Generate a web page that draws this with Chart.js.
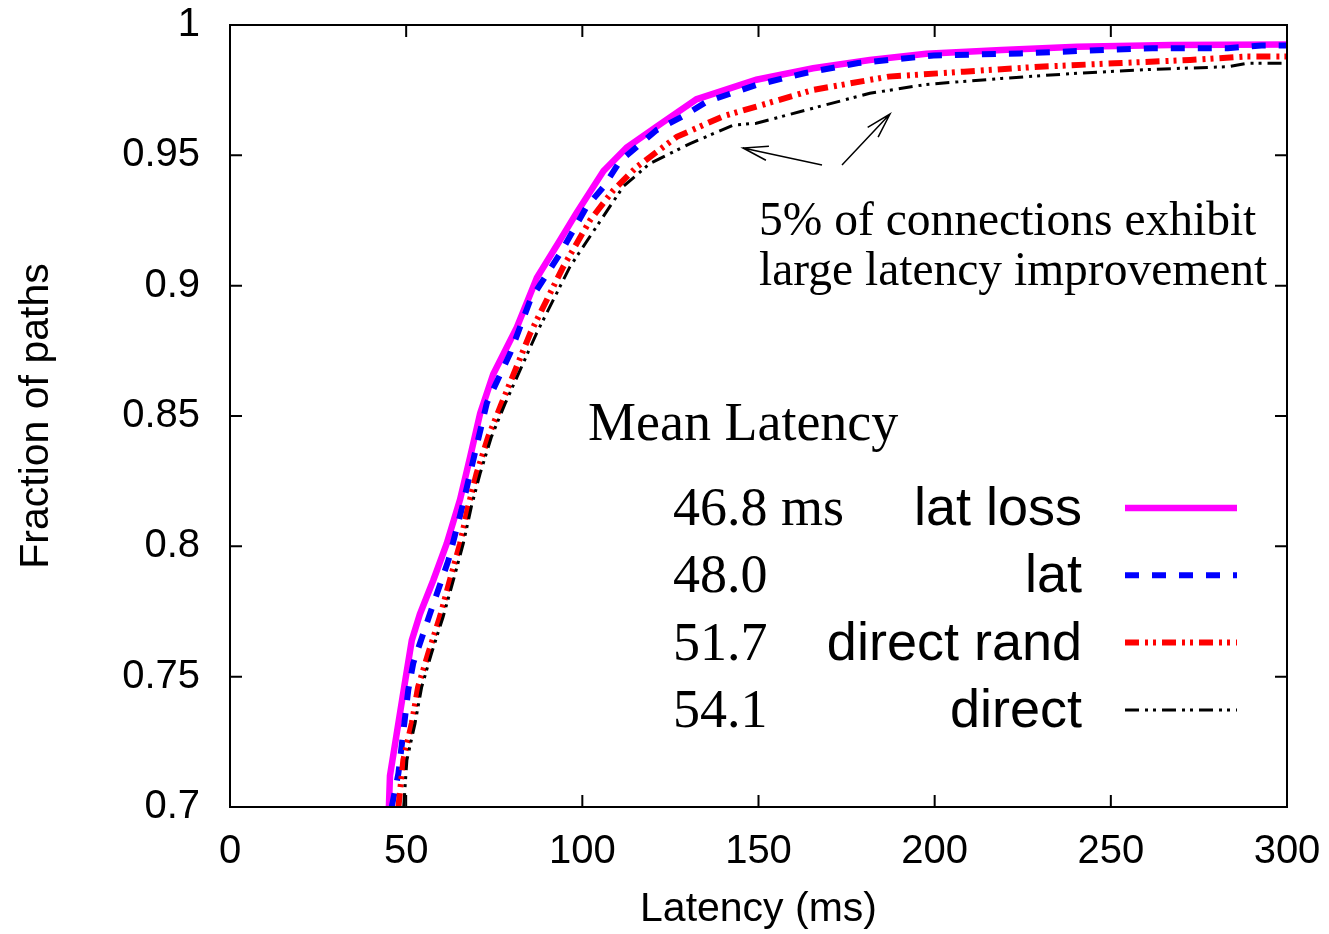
<!DOCTYPE html>
<html>
<head>
<meta charset="utf-8">
<script src="https://cdn.jsdelivr.net/npm/chart.js@4"></script>
<style>
  body { margin: 0; background: #fff; }
  #wrap { width: 1329px; height: 934px; }
</style>
</head>
<body>
<div id="wrap"><canvas id="chart"></canvas></div>
<script>
// key: series names and mean latency shown next to them
const seriesNames = ['lat loss', 'lat', 'direct rand', 'direct'];
const meanLatency = ['46.8 ms', '48.0', '51.7', '54.1'];
const noteLines = ['5% of connections exhibit', 'large latency improvement'];

const xTicks = [0, 50, 100, 150, 200, 250, 300];
const yTicks = [0.7, 0.75, 0.8, 0.85, 0.9, 0.95, 1];

// CDF curves (latency in ms, fraction of paths)
const latLossX = [45.1, 45.4, 47.3, 49.2, 51.6, 53.9, 57.7, 61.5, 65.3, 68.1, 71.0, 74.7, 81.4, 87.1, 93.7, 98.4, 106.0, 112.6, 122.1, 132.4, 149.4, 165.5, 181.6, 197.6, 219, 240.4, 267.1, 300];
const latLossY = [0.700, 0.712, 0.728, 0.744, 0.764, 0.774, 0.787, 0.801, 0.818, 0.834, 0.851, 0.866, 0.884, 0.903, 0.9175, 0.928, 0.944, 0.953, 0.962, 0.9715, 0.979, 0.9834, 0.9866, 0.989, 0.9904, 0.9917, 0.9923, 0.9925];

const latX = [45.9, 47.8, 50.6, 52.0, 56.8, 62.0, 65.7, 69.5, 72.9, 79.5, 85.2, 93.7, 101.2, 106.0, 110.7, 121.1, 128.6, 135.3, 149.4, 163.3, 178.3, 199.7, 224.3, 240.4, 261.8, 283.2, 292.8, 300];
const latY = [0.700, 0.7129, 0.7449, 0.7551, 0.7743, 0.7947, 0.8139, 0.8357, 0.855, 0.874, 0.8944, 0.9123, 0.9302, 0.9379, 0.9478, 0.9597, 0.965, 0.9706, 0.977, 0.9816, 0.9854, 0.9883, 0.9891, 0.990, 0.9911, 0.9911, 0.9921, 0.9921];

const directRandX = [47.8, 49.2, 51.6, 53.4, 56.3, 59.6, 62.4, 65.3, 67.6, 70.0, 73.3, 77.1, 85.2, 94.6, 102.2, 108.8, 115.4, 126.8, 140.0, 149.4, 165.5, 186.9, 208.3, 229.7, 251.1, 272.5, 288.5, 300];
const directRandY = [0.700, 0.718, 0.7321, 0.7461, 0.759, 0.773, 0.787, 0.801, 0.8152, 0.828, 0.842, 0.8548, 0.8817, 0.9073, 0.9251, 0.9366, 0.9455, 0.9571, 0.965, 0.9687, 0.9751, 0.9802, 0.9821, 0.984, 0.9853, 0.9866, 0.9879, 0.9879];

const directX = [49.3, 50.2, 52.5, 54.4, 57.2, 60.5, 63.4, 66.2, 68.5, 71.0, 74.2, 78.1, 87.0, 96.5, 104.0, 111.6, 119.2, 130.6, 142.8, 149.4, 165.5, 181.6, 197.6, 219, 240.4, 261.8, 283.2, 288.5, 300];
const directY = [0.700, 0.718, 0.732, 0.746, 0.759, 0.773, 0.787, 0.801, 0.8152, 0.828, 0.842, 0.8548, 0.8817, 0.9073, 0.9226, 0.938, 0.9469, 0.9545, 0.9616, 0.9623, 0.9681, 0.9738, 0.9772, 0.9795, 0.9815, 0.983, 0.984, 0.9853, 0.9853];

const sans = '"Liberation Sans", Arial, sans-serif';
const serif = '"Liberation Serif", "Times New Roman", serif';

function pts(xs, ys) {
    return xs.map((x, i) => ({ x: x, y: ys[i] }));
}

function arrow(ctx, x1, y1, x2, y2) {
    const ang = Math.atan2(y2 - y1, x2 - x1);
    const len = 26, spread = 0.28;
    ctx.beginPath();
    ctx.moveTo(x1, y1);
    ctx.lineTo(x2, y2);
    ctx.moveTo(x2 - len * Math.cos(ang - spread), y2 - len * Math.sin(ang - spread));
    ctx.lineTo(x2, y2);
    ctx.lineTo(x2 - len * Math.cos(ang + spread), y2 - len * Math.sin(ang + spread));
    ctx.stroke();
}

// gnuplot style frame: full box, ticks pointing inwards, key and note inside the plot
const framePlugin = {
    id: 'frame',
    afterDatasetsDraw(chart) {
        const ctx = chart.ctx;
        const a = chart.chartArea;
        const xs = chart.scales.x, ys = chart.scales.y;
        ctx.save();
        ctx.strokeStyle = '#000';
        ctx.lineWidth = 2;
        ctx.strokeRect(a.left, a.top, a.right - a.left, a.bottom - a.top);

        ctx.beginPath();
        xTicks.forEach(v => {
            const px = xs.getPixelForValue(v);
            ctx.moveTo(px, a.bottom); ctx.lineTo(px, a.bottom - 12);
            ctx.moveTo(px, a.top); ctx.lineTo(px, a.top + 12);
        });
        yTicks.forEach(v => {
            const py = ys.getPixelForValue(v);
            ctx.moveTo(a.left, py); ctx.lineTo(a.left + 12, py);
            ctx.moveTo(a.right, py); ctx.lineTo(a.right - 12, py);
        });
        ctx.stroke();

        // note + arrows
        ctx.fillStyle = '#000';
        ctx.textBaseline = 'alphabetic';
        ctx.textAlign = 'left';
        ctx.font = '47.5px ' + serif;
        ctx.fillText(noteLines[0], 759, 235);
        ctx.fillText(noteLines[1], 759, 285);
        ctx.lineWidth = 1.5;
        arrow(ctx, 822, 165, 743, 148);
        arrow(ctx, 842, 165, 890, 114);

        // key
        ctx.font = '54px ' + serif;
        ctx.fillText('Mean Latency', 588, 440);
        chart.data.datasets.forEach((ds, i) => {
            const base = 525 + i * 67.3;
            ctx.font = '54px ' + serif;
            ctx.textAlign = 'left';
            ctx.fillText(meanLatency[i], 673, base);
            ctx.font = '54px ' + sans;
            ctx.textAlign = 'right';
            ctx.fillText(ds.label, 1082, base);
            ctx.beginPath();
            ctx.strokeStyle = ds.borderColor;
            ctx.lineWidth = ds.borderWidth;
            ctx.setLineDash(ds.borderDash || []);
            ctx.moveTo(1125, base - 17);
            ctx.lineTo(1237, base - 17);
            ctx.stroke();
            ctx.setLineDash([]);
        });
        ctx.restore();
    }
};

const datasets = [
    { label: seriesNames[0], data: pts(latLossX, latLossY), borderColor: '#ff00ff', borderWidth: 6.5, order: 3 },
    { label: seriesNames[1], data: pts(latX, latY), borderColor: '#0000ff', borderWidth: 6, borderDash: [14, 13], order: 2 },
    { label: seriesNames[2], data: pts(directRandX, directRandY), borderColor: '#ff0000', borderWidth: 6, borderDash: [14, 6, 3, 5, 3, 6], order: 1 },
    { label: seriesNames[3], data: pts(directX, directY), borderColor: '#000000', borderWidth: 3, borderDash: [14, 6, 3, 5, 3, 6], order: 0 }
];
datasets.forEach(d => { d.pointRadius = 0; d.fill = false; d.tension = 0; d.clip = 0; });

new Chart(document.getElementById('chart'), {
    type: 'line',
    data: { datasets: datasets },
    options: {
        responsive: true,
        maintainAspectRatio: false,
        animation: false,
        layout: { padding: { left: 0, right: 42, top: 25, bottom: 0 } },
        plugins: { legend: { display: false }, tooltip: { enabled: false } },
        scales: {
            x: {
                type: 'linear',
                min: 0, max: 300,
                afterBuildTicks: s => { s.ticks = xTicks.map(v => ({ value: v })); },
                afterFit: s => { s.height = 127; s.paddingLeft = 0; s.paddingRight = 0; },
                grid: { display: false, drawTicks: false },
                border: { display: false },
                ticks: { color: '#000', font: { family: sans, size: 40 }, padding: 21, maxRotation: 0 },
                title: { display: true, text: 'Latency (ms)', color: '#000', font: { family: sans, size: 41 }, padding: { top: 0, bottom: 0 } }
            },
            y: {
                type: 'linear',
                min: 0.7, max: 1,
                afterBuildTicks: s => { s.ticks = yTicks.map(v => ({ value: v })); },
                afterFit: s => { s.width = 230; s.paddingTop = 0; s.paddingBottom = 0; },
                grid: { display: false, drawTicks: false },
                border: { display: false },
                ticks: { color: '#000', font: { family: sans, size: 40 }, padding: 30, callback: v => String(+v.toFixed(2)) },
                title: { display: true, text: 'Fraction of paths', color: '#000', font: { family: sans, size: 41 }, padding: { top: 12, bottom: 0 } }
            }
        }
    },
    plugins: [framePlugin]
});
</script>
</body>
</html>
